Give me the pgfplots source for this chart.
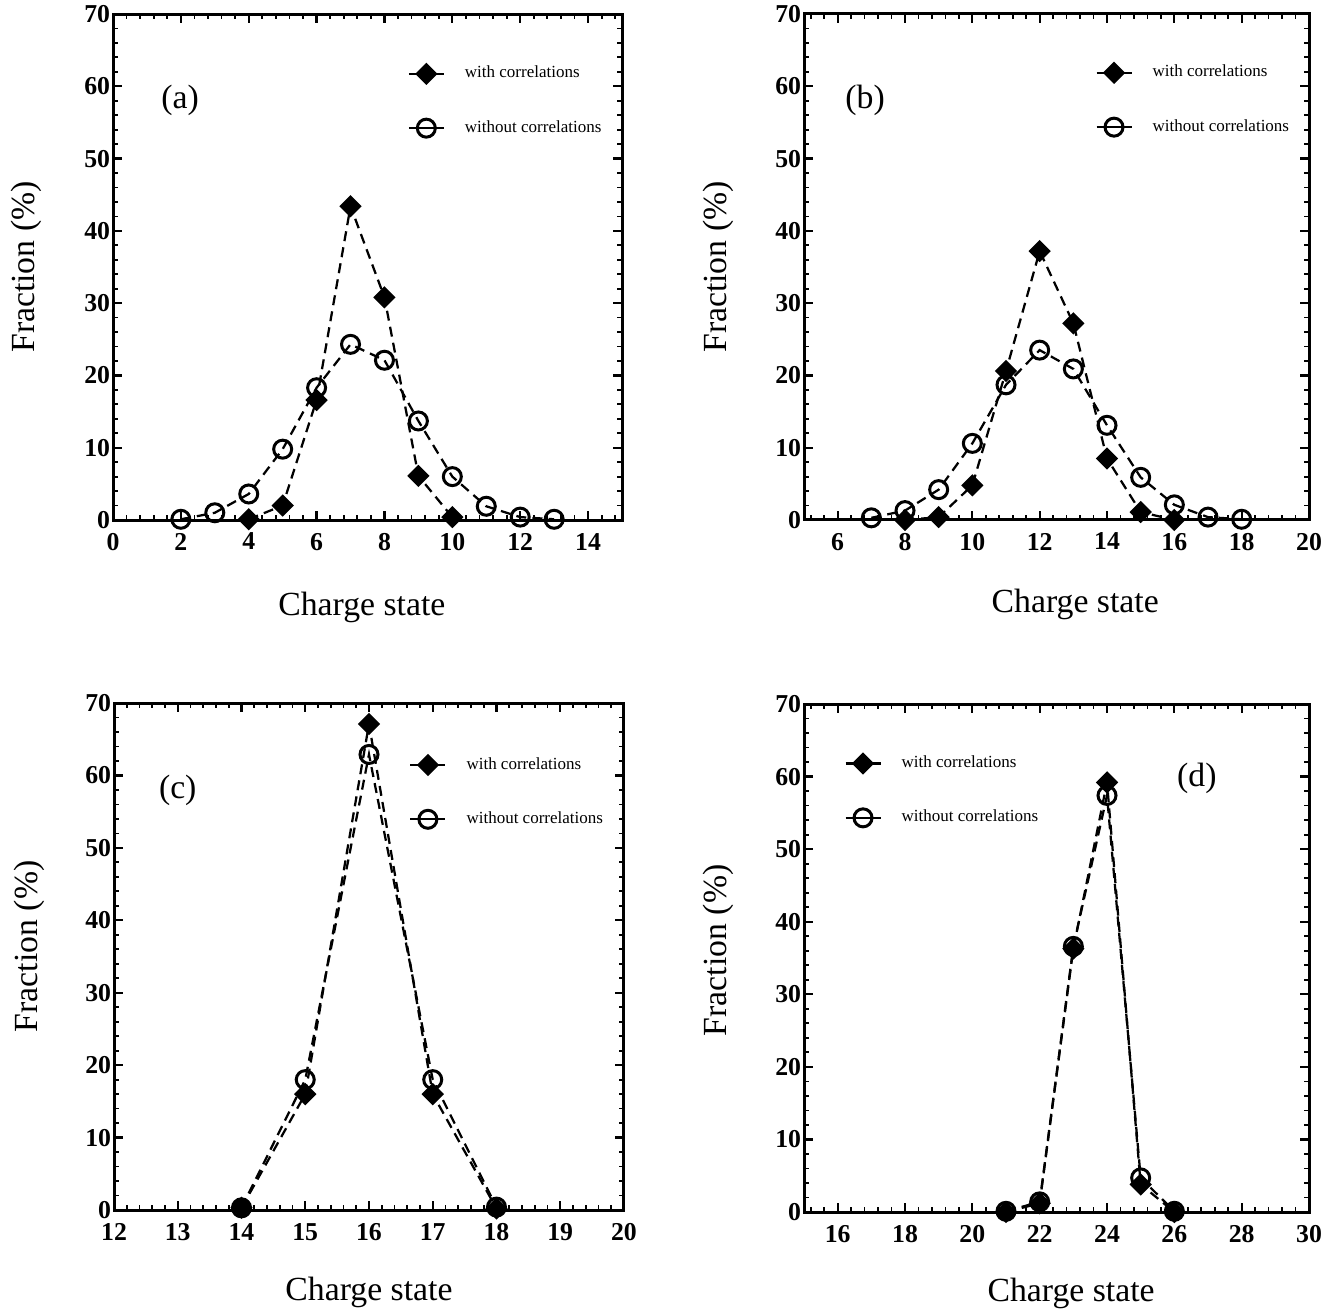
\documentclass[border=0pt]{standalone}
\usepackage{fontspec}
\setmainfont{Liberation Serif}
\usepackage{pgfplots}
\pgfplotsset{compat=1.18}

% series styles
\pgfplotsset{
  withc/.style={black, line width=0.9pt, dash pattern=on 4pt off 2.5pt,
    mark=square*, mark size=2.7pt, mark options={solid, rotate=45, fill=black}},
  woutc/.style={black, line width=0.9pt, dash pattern=on 4pt off 2.5pt,
    mark=o, mark size=3.6pt, mark options={solid, line width=1.2pt}},
  panel/.style={
    scale only axis,
    ymin=0, ymax=70,
    ytick={0,10,...,70},
    minor ytick={0,2,...,70},
    tick align=inside,
    major tick length=3.6pt,
    minor tick length=2pt,
    major tick style={black, line width=0.9pt},
    minor tick style={black, line width=0.7pt},
    axis line style={black, line width=1.2pt},
    /pgf/number format/assume math mode=true,
    tick label style={font=\bfseries\fontsize{10.3}{11}\selectfont},
    yticklabel style={inner xsep=1pt, inner ysep=0pt},
    xticklabel style={inner ysep=0pt, yshift=-5pt},
    label style={font=\fontsize{13.5}{15}\selectfont},
    ylabel={Fraction (\%)},
    xlabel={Charge state},
    clip=false,
    legend cell align=left,
    legend style={draw=none, fill=none, inner sep=0pt, anchor=north west,
      row sep=13.5pt, column sep=7pt,
      nodes={inner sep=1pt},
      font=\fontsize{6.8}{8}\selectfont},
    legend image code/.code={
      \draw[mark repeat=2, mark phase=2, solid]
        plot coordinates {(0pt,0pt) (7pt,0pt) (14pt,0pt)};
    },
  }
}

\begin{document}
\begin{tikzpicture}
\useasboundingbox (0,0) rectangle (534.8pt,-523.6pt);

% (a)
\begin{axis}[panel,
  at={(45.2pt,-208pt)}, anchor=south west,
  width=203.6pt, height=202.4pt,
  xmin=0, xmax=15, xtick={0,2,...,14}, minor xtick={0,0.4,...,15},
  xlabel style={at={(axis description cs:0.489,-0.188)}, anchor=base},
  ylabel style={at={(axis description cs:-0.171,0.5)}, anchor=center},
  legend style={at={(axis description cs:0.578,0.903)}},
]
\addplot[withc] coordinates {(4,0.1) (5,2.0) (6,16.6) (7,43.4) (8,30.8) (9,6.1) (10,0.4)};
\addplot[woutc] coordinates {(2,0.1) (3,1.0) (4,3.6) (5,9.8) (6,18.3) (7,24.3) (8,22.1) (9,13.7) (10,6.0) (11,1.9) (12,0.4) (13,0.1)};
\legend{with correlations, without correlations}
\node[font=\fontsize{13.5}{15}\selectfont] at (rel axis cs:0.132,0.83) {(a)};
\end{axis}

% (b)
\begin{axis}[panel,
  at={(321.6pt,-208pt)}, anchor=south west,
  width=202pt, height=202.4pt,
  xmin=5, xmax=20, xtick={6,8,...,20}, minor xtick={5.2,5.6,...,20},
  xlabel style={at={(axis description cs:0.537,-0.182)}, anchor=base},
  ylabel style={at={(axis description cs:-0.170,0.5)}, anchor=center},
  legend style={at={(axis description cs:0.576,0.905)}},
]
\addplot[withc] coordinates {(8,0.0) (9,0.4) (10,4.8) (11,20.6) (12,37.2) (13,27.2) (14,8.5) (15,1.1) (16,0.0)};
\addplot[woutc] coordinates {(7,0.3) (8,1.3) (9,4.2) (10,10.6) (11,18.7) (12,23.5) (13,20.9) (14,13.1) (15,5.9) (16,2.1) (17,0.4) (18,0.1)};
\legend{with correlations, without correlations}
\node[font=\fontsize{13.5}{15}\selectfont] at (rel axis cs:0.121,0.83) {(b)};
\end{axis}

% (c)
\begin{axis}[panel,
  at={(45.6pt,-484pt)}, anchor=south west,
  width=204pt, height=202.8pt,
  xmin=12, xmax=20, xtick={12,...,20}, minor xtick={12,12.2,...,20},
  xlabel style={at={(axis description cs:0.5,-0.178)}, anchor=base},
  ylabel style={at={(axis description cs:-0.165,0.52)}, anchor=center},
  legend style={at={(axis description cs:0.578,0.899)}},
]
\addplot[withc] coordinates {(14,0.3) (15,16.0) (16,67.1) (17,16.0) (18,0.2)};
\addplot[woutc] coordinates {(14,0.3) (15,18.0) (16,62.9) (17,18.0) (18,0.4)};
\legend{with correlations, without correlations}
\node[font=\fontsize{13.5}{15}\selectfont] at (rel axis cs:0.125,0.828) {(c)};
\end{axis}

% (d)
\begin{axis}[panel,
  at={(321.6pt,-484.8pt)}, anchor=south west,
  width=202pt, height=203.2pt,
  xmin=15, xmax=30, xtick={16,18,...,30}, minor xtick={15.2,15.6,...,30},
  xlabel style={at={(axis description cs:0.529,-0.177)}, anchor=base},
  ylabel style={at={(axis description cs:-0.170,0.515)}, anchor=center},
  legend style={at={(axis description cs:0.079,0.904)}},
]
\addplot[withc] coordinates {(21,0.0) (22,1.2) (23,36.3) (24,59.2) (25,3.8) (26,0.0)};
\addplot[woutc] coordinates {(21,0.1) (22,1.4) (23,36.6) (24,57.4) (25,4.7) (26,0.1)};
\legend{with correlations, without correlations}
\node[font=\fontsize{13.5}{15}\selectfont] at (rel axis cs:0.778,0.854) {(d)};
\end{axis}
\end{tikzpicture}
\end{document}
